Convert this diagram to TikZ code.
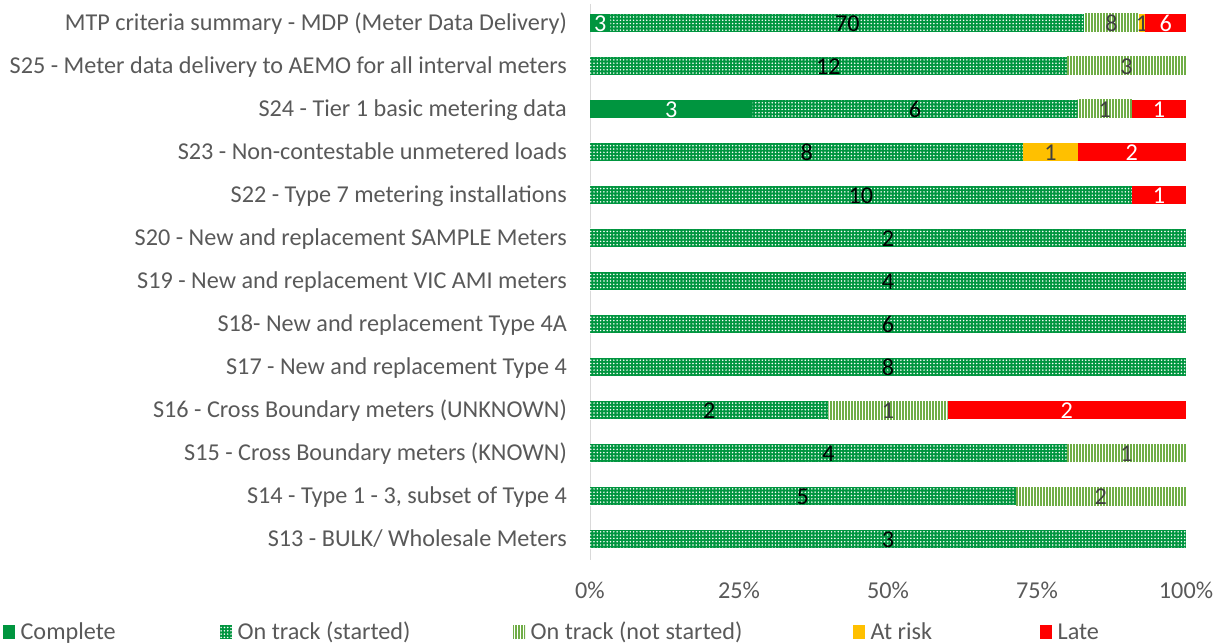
\documentclass[tikz,border=0pt]{standalone}
\usepackage{fontspec}
\setmainfont{Carlito}
\usetikzlibrary{patterns.meta, positioning}

\definecolor{completegreen}{HTML}{00953F}
\definecolor{trackgreen}{HTML}{00953F}
\definecolor{stripegreen}{HTML}{70AD47}
\definecolor{riskamber}{HTML}{FFC000}
\definecolor{latered}{HTML}{FF0000}
\definecolor{labelgray}{HTML}{595959}
\definecolor{axisgray}{HTML}{D9D9D9}

\newcommand{\chartfont}{\fontsize{24.2}{28}\selectfont}

% one bar segment, skipped when its count is 0
\newcommand{\statusseg}[5]{%
  \ifnum#5>0
    \path[#2] (#3,\ry-9) rectangle (#4,\ry+9);
    \node[#2 num] (#2-#1) at ({(#3+#4)/2},\ry+1) {#5};
  \fi}

% row number, label, complete, started, not started, at risk, late
\newcommand{\statusrow}[7]{%
  \pgfmathsetmacro\ry{23+43*(#1-1)}
  \pgfmathsetmacro\tot{#3+#4+#5+#6+#7}
  \pgfmathsetmacro\xa{590+(#3)/\tot*596}
  \pgfmathsetmacro\xb{\xa+(#4)/\tot*596}
  \pgfmathsetmacro\xc{\xb+(#5)/\tot*596}
  \pgfmathsetmacro\xd{\xc+(#6)/\tot*596}
  \node[catlabel] (cat-#1) at (567,\ry) {#2};
  \statusseg{#1}{complete}{590}{\xa}{#3}
  \statusseg{#1}{started}{\xa}{\xb}{#4}
  \statusseg{#1}{notstarted}{\xb}{\xc}{#5}
  \statusseg{#1}{atrisk}{\xc}{\xd}{#6}
  \statusseg{#1}{late}{\xd}{1186}{#7}}

\tikzset{
  complete/.style={fill=completegreen},
  started/.style={fill=trackgreen, postaction={pattern={Dots[distance=3.3pt, radius=0.85pt]}, pattern color=white}},
  notstarted/.style={fill=white, postaction={pattern={Lines[angle=90, distance=3pt, line width=1.3pt]}, pattern color=stripegreen}},
  atrisk/.style={fill=riskamber},
  late/.style={fill=latered},
  chart text/.style={inner sep=0pt, font=\chartfont, text height=17pt, text depth=2pt},
  numlabel/.style={chart text},
  complete num/.style={numlabel, text=white},
  started num/.style={numlabel, text=black},
  notstarted num/.style={numlabel, text=black!75},
  atrisk num/.style={numlabel, text=black!75},
  late num/.style={numlabel, text=white},
  catlabel/.style={chart text, anchor=east, text=labelgray},
  tick/.style={chart text, text=labelgray},
  legkey/.style={rectangle, minimum width=12pt, minimum height=14pt, inner sep=0pt, anchor=west},
  legtext/.style={chart text, text=labelgray}
}

\begin{document}
\begin{tikzpicture}[x=1pt, y=-1pt]
\useasboundingbox (0,0) rectangle (1222,644);

\draw[axisgray, line width=1pt] (590,4) -- (590,560);

\statusrow{1}{MTP criteria summary - MDP (Meter Data Delivery)}{3}{70}{8}{1}{6}
\statusrow{2}{S25 - Meter data delivery to AEMO for all interval meters}{0}{12}{3}{0}{0}
\statusrow{3}{S24 - Tier 1 basic metering data}{3}{6}{1}{0}{1}
\statusrow{4}{S23 - Non-contestable unmetered loads}{0}{8}{0}{1}{2}
\statusrow{5}{S22 - Type 7 metering installations}{0}{10}{0}{0}{1}
\statusrow{6}{S20 - New and replacement SAMPLE Meters}{0}{2}{0}{0}{0}
\statusrow{7}{S19 - New and replacement VIC AMI meters}{0}{4}{0}{0}{0}
\statusrow{8}{S18- New and replacement Type 4A}{0}{6}{0}{0}{0}
\statusrow{9}{S17 - New and replacement Type 4}{0}{8}{0}{0}{0}
\statusrow{10}{S16 - Cross Boundary meters (UNKNOWN)}{0}{2}{1}{0}{2}
\statusrow{11}{S15 - Cross Boundary meters (KNOWN)}{0}{4}{1}{0}{0}
\statusrow{12}{S14 - Type 1 - 3, subset of Type 4}{0}{5}{2}{0}{0}
\statusrow{13}{S13 - BULK/ Wholesale Meters}{0}{3}{0}{0}{0}

\foreach \p in {0,25,50,75,100}
  \node[tick] (tick-\p) at ({590+5.96*\p},591) {\p\%};

% legend
\node[legkey, complete] (key-complete) at (3,632) {};
\node[legtext, right=5pt of key-complete] (leg-complete) {Complete};
\node[legkey, started] (key-started) at (220,632) {};
\node[legtext, right=5pt of key-started] (leg-started) {On track (started)};
\node[legkey, notstarted] (key-notstarted) at (513,632) {};
\node[legtext, right=5pt of key-notstarted] (leg-notstarted) {On track (not started)};
\node[legkey, atrisk] (key-atrisk) at (853,632) {};
\node[legtext, right=5pt of key-atrisk] (leg-atrisk) {At risk};
\node[legkey, late] (key-late) at (1040,632) {};
\node[legtext, right=5pt of key-late] (leg-late) {Late};
\end{tikzpicture}
\end{document}
